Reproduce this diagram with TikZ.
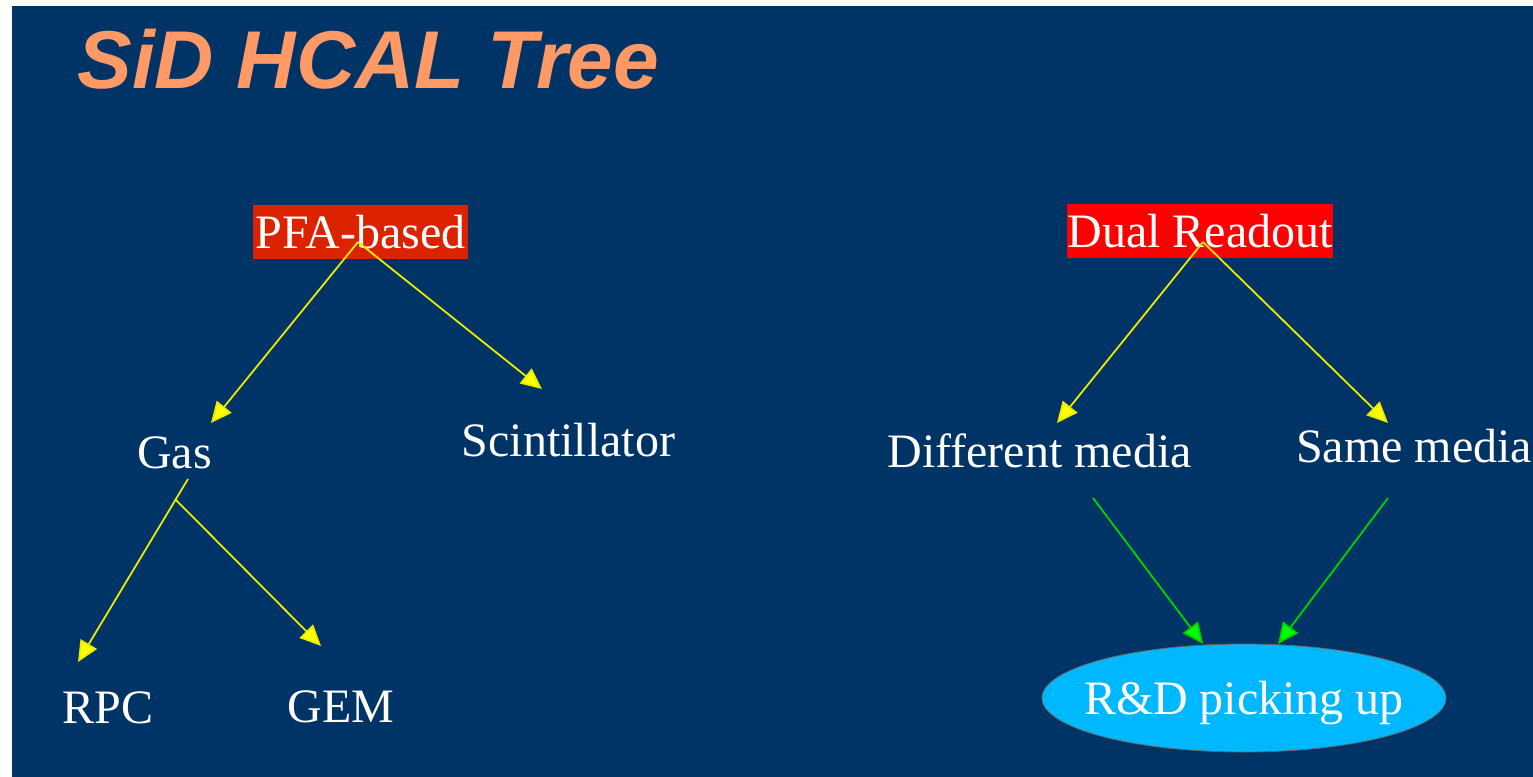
\documentclass[tikz,border=0pt]{standalone}
\usepackage{fontspec}
\setmainfont{Liberation Serif}
\newfontfamily\titlefont{Liberation Sans}
\usetikzlibrary{arrows.meta,shapes.geometric}
\definecolor{bgblue}{RGB}{0,51,102}
\definecolor{titleorange}{RGB}{255,153,102}
\definecolor{pfared}{RGB}{220,35,0}
\definecolor{dualred}{RGB}{255,0,0}
\definecolor{ellblue}{RGB}{0,184,255}
\definecolor{arryellow}{RGB}{235,235,0}
\definecolor{headyellow}{RGB}{255,255,0}
\definecolor{arrgreen}{RGB}{0,210,0}
\definecolor{headgreen}{RGB}{0,255,0}
\tikzset{
  lbl/.style={text=white, font=\fontsize{24}{28}\selectfont, inner sep=0pt, anchor=base},
  topbox/.style={lbl, text height=21.75pt, text depth=5.5pt},
  yarrow/.style={draw=arryellow, line width=0.9pt, -{Triangle[length=10.5pt,width=9.5pt,fill=headyellow]}},
  garrow/.style={draw=arrgreen, line width=0.9pt, -{Triangle[length=10.5pt,width=9.5pt,fill=headgreen]}},
}
\begin{document}
\begin{tikzpicture}[x=0.5pt,y=-0.5pt]
\useasboundingbox (0,0) rectangle (1533,777);
\fill[white] (0,0) rectangle (1533,777);
\fill[bgblue] (12,6) rectangle (1533,777);
% title
\node[anchor=base west, inner sep=0pt, text=titleorange, font=\titlefont\bfseries\itshape\fontsize{41}{48}\selectfont] (title) at (77,88) {SiD HCAL Tree};
% left tree
\node[topbox, fill=pfared, minimum width=107.5pt] (pfa) at (360.5,248) {PFA-based};
\node[lbl] (gas) at (174.5,468) {Gas};
\node[lbl] (scint) at (568.5,456) {Scintillator};
\node[lbl] (rpc) at (108,723) {RPC};
\node[lbl] (gem) at (341,722) {GEM};
% right tree
\node[topbox, fill=dualred, minimum width=133pt] (dual) at (1200,247) {Dual Readout};
\node[lbl] (diff) at (1039.5,467) {Different media};
\node[lbl] (same) at (1414,462) {Same media};
\node[ellipse, fill=ellblue, draw=black!60, line width=0.4pt, minimum width=202pt, minimum height=54pt, inner sep=0pt, text=white, font=\fontsize{24}{28}\selectfont, text height=16pt, text depth=0pt] (rd) at (1244,698) {\makebox[0pt]{R\&D picking up}};
% connector end points
\coordinate (pfaS) at (358,242);
\coordinate (gasT) at (211,423);
\coordinate (scintT) at (542,389);
\coordinate (gasS) at (188,479);
\coordinate (gasM) at (175,499);
\coordinate (rpcT) at (78,662);
\coordinate (gemT) at (321,646);
\coordinate (dualS) at (1203,242);
\coordinate (diffT) at (1057,423);
\coordinate (sameT) at (1388,423);
\coordinate (diffS) at (1093,498);
\coordinate (sameS) at (1388,498);
\coordinate (rdL) at (1203,644);
\coordinate (rdR) at (1278,644);
% connectors
\draw[yarrow] (pfaS) -- (gasT);
\draw[yarrow] (pfaS) -- (scintT);
\draw[yarrow] (gasS) -- (rpcT);
\draw[yarrow] (gasM) -- (gemT);
\draw[yarrow] (dualS) -- (diffT);
\draw[yarrow] (dualS) -- (sameT);
\draw[garrow] (diffS) -- (rdL);
\draw[garrow] (sameS) -- (rdR);
\end{tikzpicture}
\end{document}
